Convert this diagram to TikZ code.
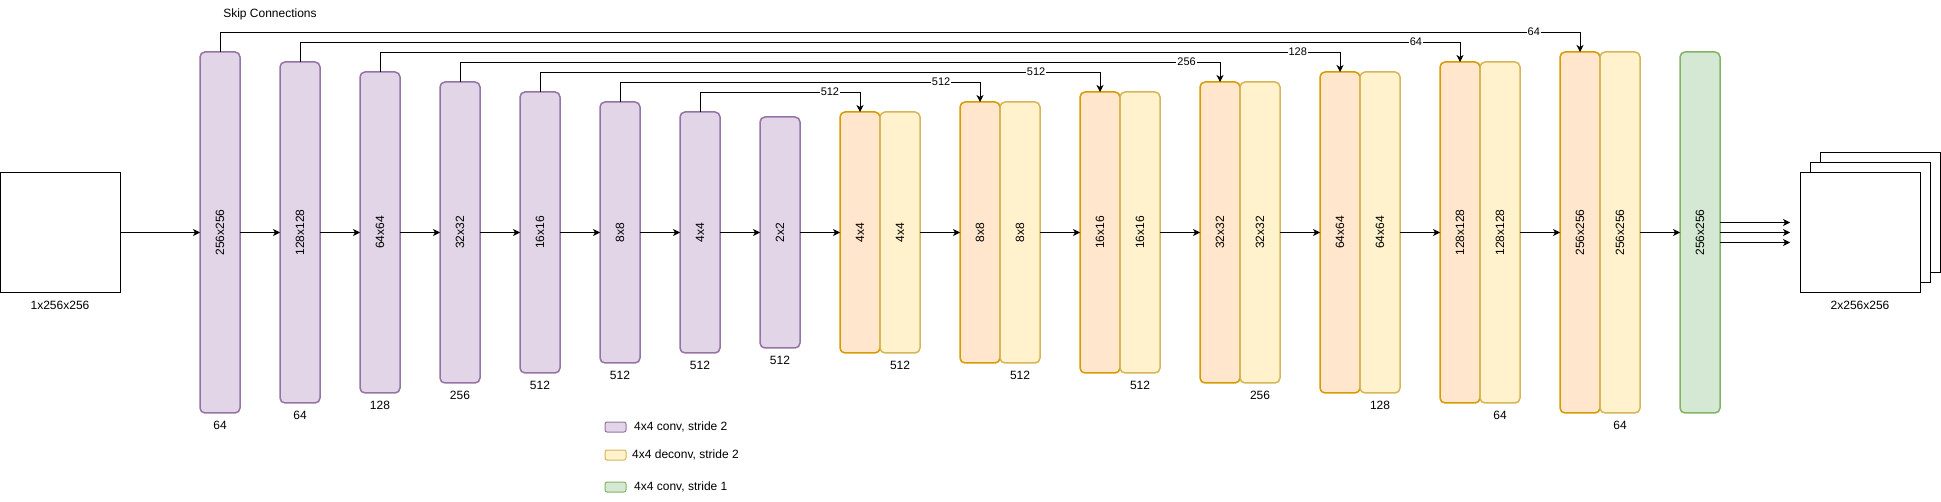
\documentclass[tikz,border=0pt]{standalone}
\usepackage{fontspec}
\setmainfont{Liberation Sans}
\usepackage{graphicx}
\usetikzlibrary{positioning, arrows.meta}

\definecolor{convfill}{HTML}{E1D5E7}
\definecolor{convdraw}{HTML}{9673A6}
\definecolor{upfill}{HTML}{FFE6CC}
\definecolor{updraw}{HTML}{D79B00}
\definecolor{deconvfill}{HTML}{FFF2CC}
\definecolor{deconvdraw}{HTML}{D6B656}
\definecolor{lastfill}{HTML}{D5E8D4}
\definecolor{lastdraw}{HTML}{82B366}

\tikzset{
    layer/.style={draw, rounded corners=5pt, line width=1.5pt, minimum width=40pt, inner sep=0pt, outer sep=0pt},
    conv/.style={layer, fill=convfill, draw=convdraw},
    up/.style={layer, fill=upfill, draw=updraw},
    deconv/.style={layer, fill=deconvfill, draw=deconvdraw},
    last/.style={layer, fill=lastfill, draw=lastdraw},
    image/.style={draw, fill=white, line width=0.8pt, minimum size=120pt, inner sep=0pt, outer sep=0pt},
    swatch/.style={minimum width=21pt, minimum height=10pt, rounded corners=2pt, line width=1pt},
    legend/.style={anchor=west, inner sep=0pt},
    skip/.style={->, line width=0.8pt},
    skiplbl/.style={fill=white, inner sep=1pt, font=\fontsize{11}{13}\selectfont}
}

\begin{document}
\begin{tikzpicture}[
    x=1pt, y=-1pt,
    node distance=40pt,
    font=\fontsize{12}{14}\selectfont,
    label distance=5pt,
    >={Stealth[length=7pt, width=7pt, inset=2pt]}
]
\useasboundingbox (0,0) rectangle (1941,502);

% Encoder
\node (input) [image, label=below:1x256x256] at (60,232.5) {};
\node (e1) [conv, minimum height=361pt, label=below:64] at (220,232.5) {\rotatebox{90}{256x256}};
\node (e2) [conv, minimum height=341pt, label=below:64, right=of e1] {\rotatebox{90}{128x128}};
\node (e3) [conv, minimum height=321pt, label=below:128, right=of e2] {\rotatebox{90}{64x64}};
\node (e4) [conv, minimum height=301pt, label=below:256, right=of e3] {\rotatebox{90}{32x32}};
\node (e5) [conv, minimum height=281pt, label=below:512, right=of e4] {\rotatebox{90}{16x16}};
\node (e6) [conv, minimum height=261pt, label=below:512, right=of e5] {\rotatebox{90}{8x8}};
\node (e7) [conv, minimum height=241pt, label=below:512, right=of e6] {\rotatebox{90}{4x4}};
\node (e8) [conv, minimum height=231pt, label=below:512, right=of e7] {\rotatebox{90}{2x2}};

% Decoder
\node (d1o) [up, minimum height=241pt, right=of e8] {\rotatebox{90}{4x4}};
\node (d1y) [deconv, minimum height=241pt, label=below:512, right=0pt of d1o] {\rotatebox{90}{4x4}};
\node (d2o) [up, minimum height=261pt, right=of d1y] {\rotatebox{90}{8x8}};
\node (d2y) [deconv, minimum height=261pt, label=below:512, right=0pt of d2o] {\rotatebox{90}{8x8}};
\node (d3o) [up, minimum height=281pt, right=of d2y] {\rotatebox{90}{16x16}};
\node (d3y) [deconv, minimum height=281pt, label=below:512, right=0pt of d3o] {\rotatebox{90}{16x16}};
\node (d4o) [up, minimum height=301pt, right=of d3y] {\rotatebox{90}{32x32}};
\node (d4y) [deconv, minimum height=301pt, label=below:256, right=0pt of d4o] {\rotatebox{90}{32x32}};
\node (d5o) [up, minimum height=321pt, right=of d4y] {\rotatebox{90}{64x64}};
\node (d5y) [deconv, minimum height=321pt, label=below:128, right=0pt of d5o] {\rotatebox{90}{64x64}};
\node (d6o) [up, minimum height=341pt, right=of d5y] {\rotatebox{90}{128x128}};
\node (d6y) [deconv, minimum height=341pt, label=below:64, right=0pt of d6o] {\rotatebox{90}{128x128}};
\node (d7o) [up, minimum height=361pt, right=of d6y] {\rotatebox{90}{256x256}};
\node (d7y) [deconv, minimum height=361pt, label=below:64, right=0pt of d7o] {\rotatebox{90}{256x256}};
\node (final) [last, minimum height=361pt, right=of d7y] {\rotatebox{90}{256x256}};

% Output
\node (outc) [image] at (1880,212.5) {};
\node (outb) [image] at (1870,222.5) {};
\node (outf) [image, label=below:2x256x256] at (1860,232.5) {};
\coordinate (t1) at ([xshift=-10pt, yshift=10pt]outf.west);
\coordinate (t2) at ([xshift=-10pt]outf.west);
\coordinate (t3) at ([xshift=-10pt, yshift=-10pt]outf.west);

% Arrows
\draw[->, line width=0.8pt] (input) -- (e1);
\draw[->, line width=0.8pt] (e1) -- (e2);
\draw[->, line width=0.8pt] (e2) -- (e3);
\draw[->, line width=0.8pt] (e3) -- (e4);
\draw[->, line width=0.8pt] (e4) -- (e5);
\draw[->, line width=0.8pt] (e5) -- (e6);
\draw[->, line width=0.8pt] (e6) -- (e7);
\draw[->, line width=0.8pt] (e7) -- (e8);
\draw[->, line width=0.8pt] (e8) -- (d1o);
\draw[->, line width=0.8pt] (d1y) -- (d2o);
\draw[->, line width=0.8pt] (d2y) -- (d3o);
\draw[->, line width=0.8pt] (d3y) -- (d4o);
\draw[->, line width=0.8pt] (d4y) -- (d5o);
\draw[->, line width=0.8pt] (d5y) -- (d6o);
\draw[->, line width=0.8pt] (d6y) -- (d7o);
\draw[->, line width=0.8pt] (d7y) -- (final);
\draw[->, line width=0.8pt] ([yshift=10pt]final.east) -- (t1);
\draw[->, line width=0.8pt] (final.east) -- (t2);
\draw[->, line width=0.8pt] ([yshift=-10pt]final.east) -- (t3);

% Skip connections
\node (skiptitle) at (270,14) {Skip Connections};
\draw[skip] (e1.north) -- ++(0,-20) -| node[skiplbl, pos=0.483] {64} (d7o.north);
\draw[skip] (e2.north) -- ++(0,-20) -| node[skiplbl, pos=0.481] {64} (d6o.north);
\draw[skip] (e3.north) -- ++(0,-20) -| node[skiplbl, pos=0.478] {128} (d5o.north);
\draw[skip] (e4.north) -- ++(0,-20) -| node[skiplbl, pos=0.478] {256} (d4o.north);
\draw[skip] (e5.north) -- ++(0,-20) -| node[skiplbl, pos=0.443] {512} (d3o.north);
\draw[skip] (e6.north) -- ++(0,-20) -| node[skiplbl, pos=0.446] {512} (d2o.north);
\draw[skip] (e7.north) -- ++(0,-20) -| node[skiplbl, pos=0.406] {512} (d1o.north);

% Legend
\node (lgconv) [conv, swatch] at (615.5,427) {};
\node (lgdeconv) [deconv, swatch] at (615.5,455) {};
\node (lglast) [last, swatch] at (615.5,487) {};
\node [legend, right=8pt of lgconv] {4x4 conv, stride 2};
\node [legend, right=6pt of lgdeconv] {4x4 deconv, stride 2};
\node [legend, right=8pt of lglast] {4x4 conv, stride 1};

\end{tikzpicture}
\end{document}
